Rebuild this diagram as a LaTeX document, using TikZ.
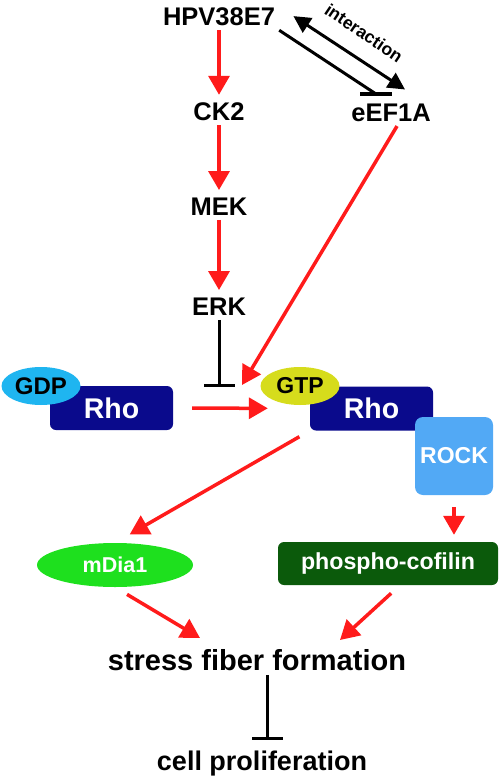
\documentclass[tikz,border=0pt]{standalone}
\usepackage{fontspec}
\setmainfont{Liberation Sans}
\usepackage{tikz}
\usetikzlibrary{arrows.meta, shapes.geometric}
\definecolor{actred}{HTML}{FF1B1B}
\definecolor{rhoblue}{HTML}{0A0A8C}
\definecolor{gdpblue}{HTML}{1FB5F0}
\definecolor{gtpyellow}{HTML}{D6DC1C}
\definecolor{rockblue}{HTML}{52A9F5}
\definecolor{diagreen}{HTML}{1EE01E}
\definecolor{cofgreen}{HTML}{0B5A0B}
\tikzstyle{prot} = [font=\fontsize{25.5}{30}\selectfont\bfseries, inner sep=4pt]
\tikzstyle{act} = [draw=actred, line width=3.5pt, -{Triangle[length=19pt,width=21pt]}]
\tikzstyle{inh} = [draw=black, line width=3pt, -{Bar[width=31pt]}]
\tikzstyle{rhobox} = [rectangle, rounded corners=6pt, fill=rhoblue, text=white, minimum width=123pt, minimum height=44pt, font=\fontsize{28.5}{32}\selectfont\bfseries]
\tikzstyle{nuc} = [ellipse, minimum width=79pt, minimum height=38pt, inner sep=0pt]

\begin{document}
\begin{tikzpicture}[x=1pt, y=-1pt]
	\useasboundingbox (0,0) rectangle (500,778);
	\node[prot] (hpv) at (219,17) {HPV38E7};
	\node[prot] (ck2) at (219,112) {CK2};
	\node[prot] (mek) at (219,207) {MEK};
	\node[prot] (erk) at (219,307) {ERK};
	\node[prot] (eef) at (391,113) {eEF1A};
	\node[font=\fontsize{17.5}{21}\selectfont\bfseries, rotate=-34, inner sep=0pt] (inter) at (364,33) {interaction};
	\node[rhobox] (rhoL) at (111.5,408) {Rho};
	\node[rhobox] (rhoR) at (371.5,408.5) {Rho};
	\node[nuc, fill=gdpblue, font=\fontsize{24}{28}\selectfont\bfseries] (gdp) at (41,386) {GDP};
	\node[nuc, fill=gtpyellow, font=\fontsize{23}{27}\selectfont\bfseries] (gtp) at (300,386) {GTP};
	\node[rectangle, rounded corners=8pt, fill=rockblue, text=white, minimum width=78pt, minimum height=78pt, font=\fontsize{23}{27}\selectfont\bfseries] (rock) at (454,456) {ROCK};
	\node[ellipse, fill=diagreen, text=white, minimum width=156pt, minimum height=44pt, inner sep=0pt, font=\fontsize{21.5}{25}\selectfont\bfseries] (mdia) at (115,565) {mDia1};
	\node[rectangle, rounded corners=6pt, fill=cofgreen, text=white, minimum width=220pt, minimum height=43pt, font=\fontsize{23.2}{27}\selectfont\bfseries] (pc) at (388,563.5) {phospho-cofilin};
	\node[font=\fontsize{29}{33}\selectfont\bfseries, inner sep=4pt] (sff) at (257,660) {stress fiber formation};
	\node[font=\fontsize{27}{31}\selectfont\bfseries, inner sep=4pt] (cell) at (262,764) {cell proliferation};
	\coordinate (blk) at (219,387);
	\coordinate (gate) at (242,385);
	\coordinate (eefbar) at (376,94);
	\coordinate (sfL) at (200,638);
	\coordinate (sfR) at (340,640);

	\draw[act, shorten >=4pt] (hpv) -- (ck2);
	\draw[act, shorten >=4pt] (ck2) -- (mek);
	\draw[act, shorten >=4pt] (mek) -- (erk);
	\draw[inh] (erk) -- (blk);
	\draw[line width=3pt, {Triangle[length=17pt,width=17pt]}-{Triangle[length=17pt,width=17pt]}, shorten <=17pt, shorten >=19pt] ([yshift=-3pt]hpv.north east) -- ([xshift=-14pt]eef.north east);
	\draw[line width=3pt] (hpv.south east) -- (eefbar);
	\draw[line width=3.5pt] ([xshift=-16pt]eefbar) -- ([xshift=16pt]eefbar);
	\draw[act] ([xshift=6pt]eef.south) -- (gate);
	\draw[act, shorten <=19pt, shorten >=42pt] (rhoL) -- (rhoR);
	\draw[act, shorten <=12pt, shorten >=17pt] (rhoR.south west) -- (mdia.north);
	\draw[act, shorten <=12pt, shorten >=7pt] (rock.south) -- (rock.south |- pc.north);
	\draw[act, shorten <=14pt] (mdia.south) -- (sfL);
	\draw[act, shorten <=12pt] ([xshift=12pt]pc.south) -- (sfR);
	\draw[inh, shorten >=7pt] ([xshift=10pt]sff.south) -- ([xshift=5pt]cell.north);
\end{tikzpicture}
\end{document}
